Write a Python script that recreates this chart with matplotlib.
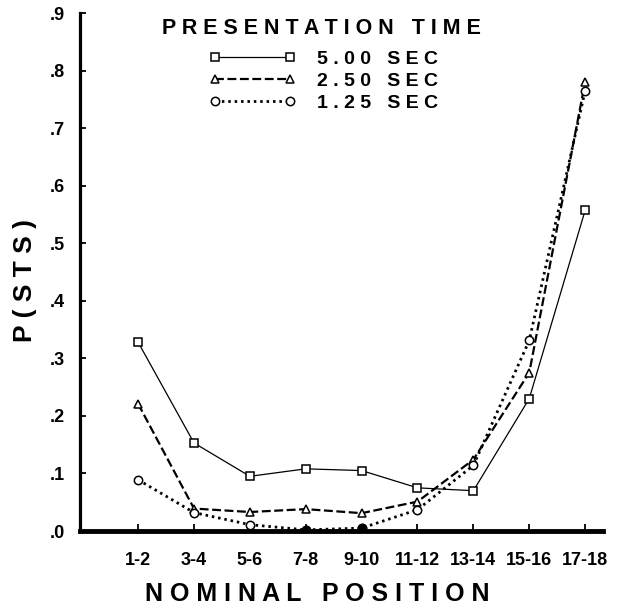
import matplotlib
matplotlib.use("Agg")
import matplotlib.pyplot as plt
from matplotlib.ticker import FixedLocator, FuncFormatter

plt.rcParams['font.family'] = ['Liberation Sans', 'DejaVu Sans']

categories = ["1-2", "3-4", "5-6", "7-8", "9-10", "11-12", "13-14", "15-16", "17-18"]
sec_500 = [0.328, 0.153, 0.095, 0.108, 0.105, 0.075, 0.070, 0.230, 0.557]
sec_250 = [0.221, 0.039, 0.033, 0.038, 0.031, 0.051, 0.124, 0.275, 0.780]
sec_125 = [0.089, 0.032, 0.011, 0.002, 0.005, 0.037, 0.114, 0.331, 0.765]
series_labels = ["5.00 SEC", "2.50 SEC", "1.25 SEC"]
legend_title = "PRESENTATION TIME"
ytick_vals = [0.0, 0.1, 0.2, 0.3, 0.4, 0.5, 0.6, 0.7, 0.8, 0.9]

def spaced(s, gap=" "):
    words = s.split(" ")
    return (gap * 3).join(gap.join(w) for w in words)

W, H = 618, 608
fig = plt.figure(figsize=(W / 100, H / 100), dpi=100)
ax = fig.add_axes([80 / W, 1 - 531 / H, (603 - 80) / W, (531 - 13) / H])

x = list(range(len(categories)))
ax.plot(x, sec_500, color='black', lw=0.9, ls='-', marker='s', ms=5.5,
        mfc='white', mec='black', mew=1.1, label=spaced(series_labels[0]))
ax.plot(x, sec_250, color='black', lw=1.6, ls=(0, (4, 1.6)), marker='^', ms=6,
        mfc='white', mec='black', mew=1.1, label=spaced(series_labels[1]))
ax.plot(x, sec_125, color='black', lw=2.0, ls=(0, (0.9, 1.4)), marker='o', ms=6,
        mfc='white', mec='black', mew=1.1, label=spaced(series_labels[2]))
# circles that print as solid dots near the floor
filled_idx = [3, 4]
ax.plot([x[i] for i in filled_idx], [sec_125[i] for i in filled_idx], ls='none',
        marker='o', ms=6, mfc='black', mec='black', zorder=3)

ax.set_xlim(-1.04, 8.32)
ax.set_ylim(0, 0.9)

ax.xaxis.set_major_locator(FixedLocator(x))
ax.set_xticklabels(categories)
ax.yaxis.set_major_locator(FixedLocator(ytick_vals))
ax.yaxis.set_major_formatter(FuncFormatter(lambda v, p: ("%.1f" % v).lstrip("0")))

for sp in ['top', 'right']:
    ax.spines[sp].set_visible(False)
ax.spines['left'].set_linewidth(2.3)
ax.spines['bottom'].set_linewidth(3.5)

ax.tick_params(axis='y', direction='in', length=4.5, width=1.3, pad=11,
               labelsize=13)
ax.tick_params(axis='x', direction='in', length=5, width=1.3, pad=15,
               labelsize=13)
for lab in ax.get_xticklabels() + ax.get_yticklabels():
    lab.set_fontweight('bold')

ax.set_xlabel(spaced("NOMINAL POSITION"), fontsize=18, fontweight='bold')
ax.xaxis.set_label_coords((317 - 80) / 523, -(601 - 531) / 518)
ax.xaxis.label.set_va('baseline')
ax.set_ylabel(spaced("P(STS)"), fontsize=19, fontweight='bold')
ax.yaxis.set_label_coords((25 - 80) / 523, (531 - 281) / 518)
ax.yaxis.label.set_va('center')

fig.text(321 / W, 1 - 28 / H, spaced(legend_title), ha='center', va='center',
         fontsize=15.5, fontweight='bold')

leg = ax.legend(loc='upper center', bbox_to_anchor=(324 / W, 1 - 50 / H),
                bbox_transform=fig.transFigure, frameon=False, numpoints=2,
                handlelength=4.45, handletextpad=1.1, labelspacing=0.24,
                borderpad=0, borderaxespad=0,
                prop={'weight': 'bold', 'size': 14})

fig.savefig("out.png", dpi=100)
